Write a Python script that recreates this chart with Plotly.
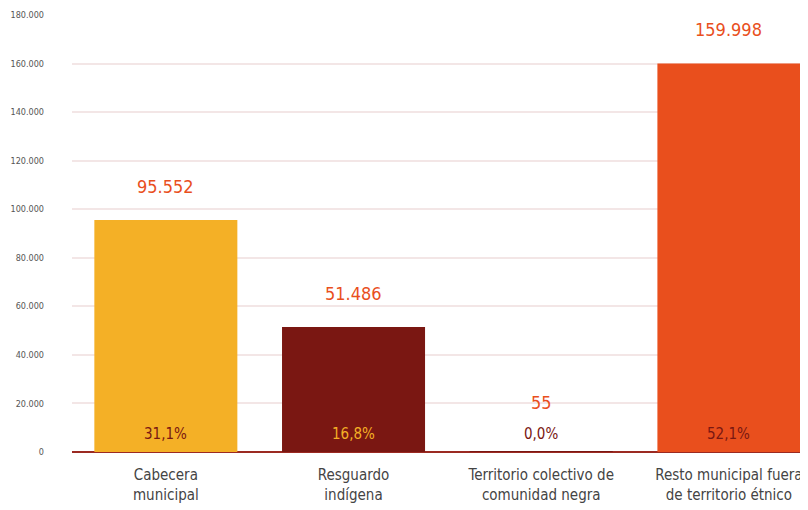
import plotly.graph_objects as go

categories = ["Cabecera<br>municipal", "Resguardo<br>indígena",
              "Territorio colectivo de<br>comunidad negra",
              "Resto municipal fuera<br>de territorio étnico"]
values = [95552, 51486, 55, 159998]
value_labels = ["95.552", "51.486", "55", "159.998"]
pct_labels = ["31,1%", "16,8%", "0,0%", "52,1%"]
bar_colors = ["#F4B026", "#7A1712", "#7A1712", "#E94F1D"]
pct_colors = ["#7A1712", "#F4B026", "#7A1712", "#7A1712"]
tick_vals = [0, 20000, 40000, 60000, 80000, 100000, 120000, 140000, 160000, 180000]

FONT = "Noto Sans Condensed, DejaVu Sans Condensed, Liberation Sans Narrow, Roboto, sans-serif"
x = list(range(len(categories)))

fig = go.Figure(go.Bar(x=x, y=values, marker=dict(color=bar_colors, line=dict(width=0)),
                       width=0.762, hoverinfo="skip"))

anns = []
for i, v in enumerate(values):
    anns.append(dict(x=i, y=max(v, 6200), text=value_labels[i], showarrow=False,
                     yshift=34, font=dict(family=FONT, size=18, color="#E94F1D")))
    anns.append(dict(x=i, y=0, text=pct_labels[i], showarrow=False, yshift=18,
                     font=dict(family=FONT, size=15, color=pct_colors[i])))

fig.update_layout(
    width=808, height=510,
    margin=dict(l=64, r=0, t=7, b=66),
    paper_bgcolor="white", plot_bgcolor="white",
    separators=",.",
    showlegend=False,
    annotations=anns,
    font=dict(family=FONT),
    xaxis=dict(range=[-0.5, 3.464], tickvals=x, ticktext=categories,
               tickfont=dict(family=FONT, size=15, color="#444444"),
               showgrid=False, zeroline=False, showline=False, ticks="",
               ticklabeloverflow="allow", automargin=False, ticklabelstandoff=12),
    yaxis=dict(range=[0, 180000], tickvals=tick_vals, tickformat=",d",
               tickfont=dict(family=FONT, size=9, color="#555555"),
               gridcolor="#F3E6E6", gridwidth=2, zeroline=True,
               zerolinecolor="#9B2A22", zerolinewidth=2,
               ticks="", ticklabelstandoff=27, automargin=False),
)
fig.write_html("out.html")
